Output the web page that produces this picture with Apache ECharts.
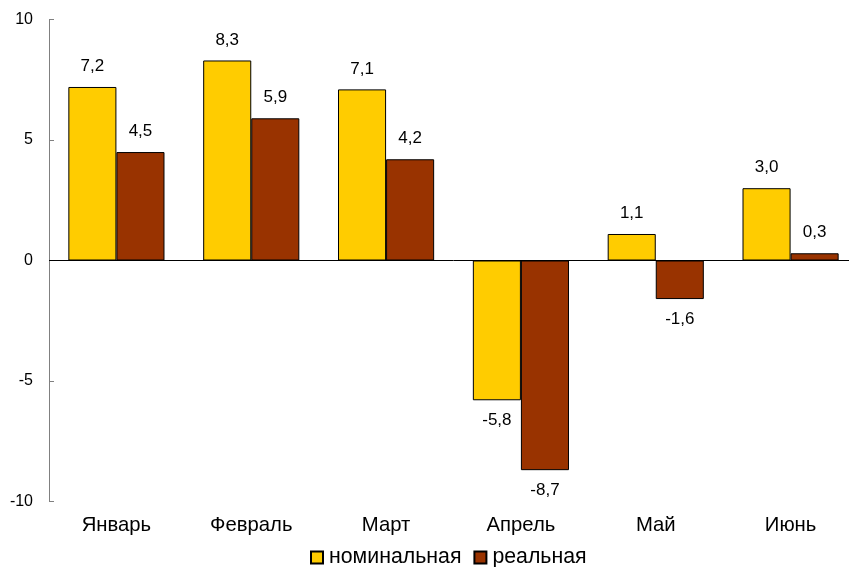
<!DOCTYPE html>
<html>
<head>
<meta charset="utf-8">
<script src="https://cdn.jsdelivr.net/npm/echarts@6/dist/echarts.min.js"></script>
<style>
html,body{margin:0;padding:0;background:#fff;overflow:hidden;width:849px;height:567px;}
#chart{width:858px;height:567px;}
</style>
</head>
<body>
<div id="chart"></div>
<script>
var categories = ['Январь', 'Февраль', 'Март', 'Апрель', 'Май', 'Июнь'];
var nominal = [7.2, 8.3, 7.1, -5.8, 1.1, 3.0];
var real = [4.5, 5.9, 4.2, -8.7, -1.6, 0.3];
var seriesNames = ['номинальная', 'реальная'];
var yTicks = { min: -10, max: 10, interval: 5 };

function fmt(v) { return v.toFixed(1).replace('.', ','); }
function toData(arr) {
  return arr.map(function (v) {
    return { value: v, label: { position: v >= 0 ? 'top' : 'bottom' } };
  });
}

var chart = echarts.init(document.getElementById('chart'));
var font = 'Liberation Sans, Arial, sans-serif';
chart.setOption({
  animation: false,
  grid: { left: 49, right: 0, top: 19.5, height: 482, containLabel: false },
  legend: {
    top: 542,
    left: 305,
    itemWidth: 12,
    itemHeight: 12,
    itemGap: 12,
    icon: 'rect',
    textStyle: { fontFamily: font, fontSize: 21.3, color: '#000', padding: [0, 0, 0, 1] },
    data: seriesNames
  },
  xAxis: {
    type: 'category',
    data: categories,
    axisLine: { show: false, onZero: false },
    axisTick: { show: false },
    axisLabel: { margin: 14, fontFamily: font, fontSize: 20.3, color: '#000' },
    splitLine: { show: false }
  },
  yAxis: {
    type: 'value',
    min: yTicks.min,
    max: yTicks.max,
    interval: yTicks.interval,
    axisLine: { show: true, lineStyle: { color: '#808080', width: 1 } },
    axisTick: { show: true, inside: true, length: 5, lineStyle: { color: '#808080' } },
    axisLabel: { margin: 16, fontFamily: font, fontSize: 16, color: '#000' },
    splitLine: { show: false }
  },
  series: [
    {
      name: seriesNames[0],
      type: 'bar',
      data: toData(nominal),
      barGap: '0%',
      barCategoryGap: '28.7%',
      itemStyle: { color: '#FFCC00', borderColor: '#000', borderWidth: 1 },
      label: { show: true, distance: 12, fontFamily: font, fontSize: 17, color: '#000',
        formatter: function (p) { return fmt(p.value); } },
      markLine: {
        silent: true,
        symbol: ['none', 'none'],
        label: { show: false },
        lineStyle: { color: '#000', width: 1, type: 'solid' },
        data: [{ yAxis: 0 }]
      }
    },
    {
      name: seriesNames[1],
      type: 'bar',
      data: toData(real),
      barGap: '0%',
      barCategoryGap: '28.7%',
      itemStyle: { color: '#993300', borderColor: '#000', borderWidth: 1 },
      label: { show: true, distance: 12, fontFamily: font, fontSize: 17, color: '#000',
        formatter: function (p) { return fmt(p.value); } }
    }
  ]
});
</script>
</body>
</html>
